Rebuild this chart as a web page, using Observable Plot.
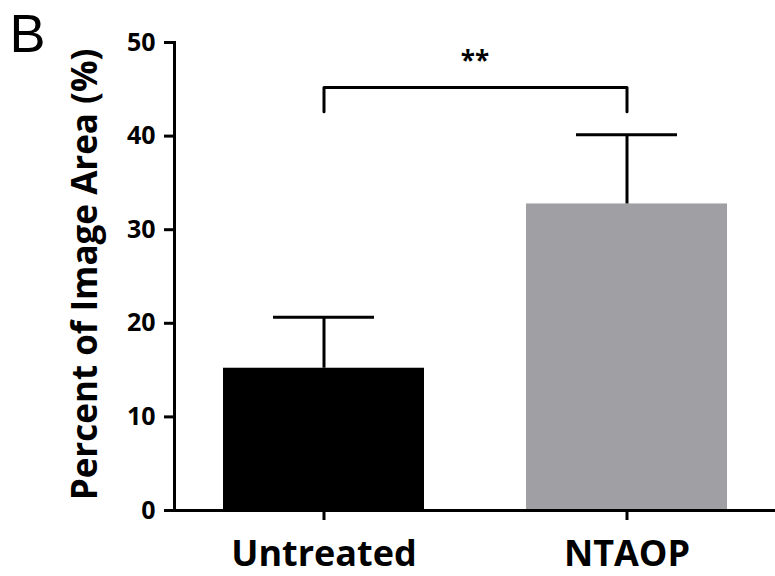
<!DOCTYPE html>
<html>
<head>
<meta charset="utf-8">
<script src="https://cdn.jsdelivr.net/npm/d3@7"></script>
<script src="https://cdn.jsdelivr.net/npm/@observablehq/plot@0.6"></script>
<style>
  html, body { margin: 0; padding: 0; background: white; }
</style>
</head>
<body>
<div id="chart"></div>
<script>
const categories = ["Untreated", "NTAOP"];
const means = [15.2, 32.75];
const errors = [5.45, 7.4];
const barColors = ["#000000", "#a09fa3"];
const yTicks = [0, 10, 20, 30, 40, 50];
const panelLabel = "B";
const yTitle = "Percent of Image Area (%)";
const sigLabel = "**";
const bracketTop = 45.2;
const bracketLeg = 42.6;
const sigY = 48;

const data = categories.map((c, i) => ({cat: c, mean: means[i], upper: means[i] + errors[i], color: barColors[i]}));
const bracket = [
  {cat: categories[0], v: bracketLeg},
  {cat: categories[0], v: bracketTop},
  {cat: categories[1], v: bracketTop},
  {cat: categories[1], v: bracketLeg}
];

const chart = Plot.plot({
  width: 775,
  height: 576,
  marginLeft: 174,
  marginRight: 0,
  marginTop: 42,
  marginBottom: 66,
  style: {fontFamily: "'Open Sans', sans-serif", background: "white", color: "black"},
  x: {domain: categories, paddingInner: 0.337, paddingOuter: 0.16, align: 0.5, label: null},
  y: {domain: [0, 50], label: null},
  color: {type: "identity"},
  marks: [
    Plot.barY(data, {x: "cat", y: "mean", fill: "color"}),
    Plot.ruleX(data, {x: "cat", y1: "mean", y2: "upper", stroke: "black", strokeWidth: 3}),
    Plot.tickY(data, {x: "cat", y: "upper", stroke: "black", strokeWidth: 3, insetLeft: 50, insetRight: 50}),
    Plot.line(bracket, {x: "cat", y: "v", stroke: "black", strokeWidth: 3}),
    Plot.text([{y: sigY, t: sigLabel}], {y: "y", text: "t", frameAnchor: "middle", fontSize: 26, fontWeight: "bold"}),
    Plot.ruleY([0], {strokeWidth: 3}),
    Plot.frame({anchor: "left", strokeWidth: 3}),
    Plot.axisY({ticks: yTicks, tickSize: 10, tickPadding: 9, strokeWidth: 3, fontSize: 25, fontWeight: "bold", label: null}),
    Plot.axisX({tickSize: 10, tickPadding: 20, strokeWidth: 3, fontSize: 36, fontWeight: "bold", label: null}),
    Plot.text([yTitle], {frameAnchor: "left", textAnchor: "middle", rotate: -90, dx: -89, dy: -2, fontSize: 35, fontWeight: "bold"}),
    Plot.text([panelLabel], {frameAnchor: "top-left", dx: -165, dy: 9, fontSize: 54, fontFamily: "'Liberation Sans', sans-serif", textAnchor: "start", lineAnchor: "bottom"})
  ]
});
document.getElementById("chart").appendChild(chart);
</script>
</body>
</html>
